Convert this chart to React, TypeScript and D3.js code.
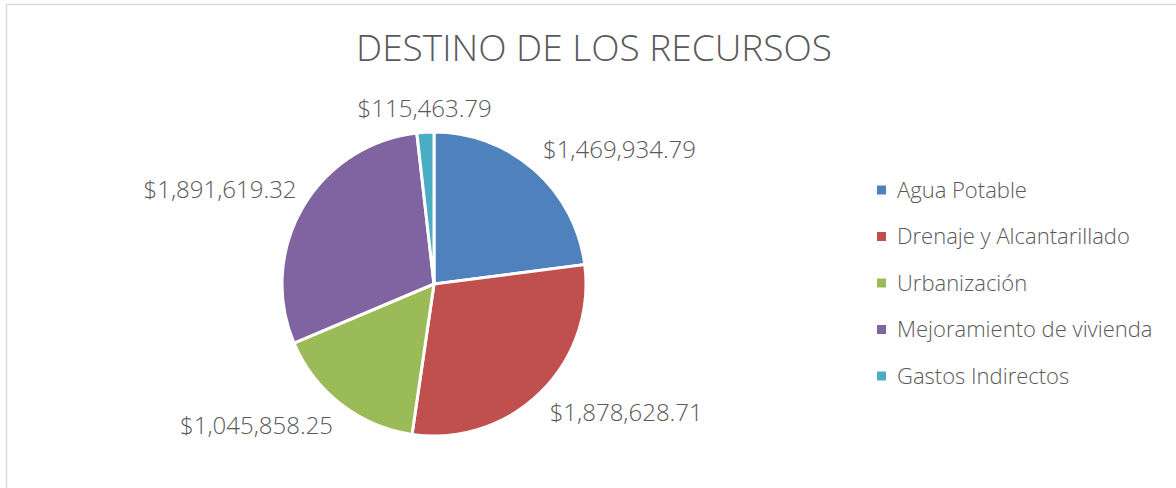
import React from "react";
import * as d3 from "d3";

const categories = [
  "Agua Potable",
  "Drenaje y Alcantarillado",
  "Urbanización",
  "Mejoramiento de vivienda",
  "Gastos Indirectos",
];
const values = [1469934.79, 1878628.71, 1045858.25, 1891619.32, 115463.79];
const colors = ["#4f81bd", "#c0504d", "#9bbb59", "#8064a2", "#4bacc6"];
const title = "DESTINO DE LOS RECURSOS";

const FONT = "'Open Sans', 'DejaVu Sans', sans-serif";
const TEXT = "#595959";

const App = () => {
  const width = 1176,
    height = 488;
  const cx = 434,
    cy = 284,
    radius = 152;

  const pie = d3
    .pie<number>()
    .sort(null)
    .value((d) => d);
  const arcs = pie(values);
  const arc = d3.arc<d3.PieArcDatum<number>>().innerRadius(0).outerRadius(radius);

  const fmt = d3.format("$,.2f");

  const legendY = d3
    .scalePoint<string>()
    .domain(categories)
    .range([190, 376]);

  return (
    <svg
      width={width}
      height={height}
      style={{ position: "absolute", left: 0, top: 0, background: "#fff" }}
    >
      <rect x={6.5} y={4.5} width={1180} height={500} fill="#fff" stroke="#d9d9d9" strokeWidth={1.5} />
      <text
        x={594}
        y={61}
        textAnchor="middle"
        fontFamily={FONT}
        fontWeight={300}
        fontSize={37}
        fill={TEXT}
      >
        {title}
      </text>
      <g transform={`translate(${cx},${cy})`}>
        {arcs.map((d, i) => (
          <path key={i} d={arc(d) || ""} fill={colors[i]} stroke="#fff" strokeWidth={3} />
        ))}
        {arcs.map((d, i) => {
          // label just outside the rim along the slice's mid angle
          const mid = (d.startAngle + d.endAngle) / 2;
          const s = Math.sin(mid),
            c = Math.cos(mid);
          const px = (radius + 13) * s;
          const py = -(radius + 13) * c;
          const anchor = s > 0.3 ? "start" : s < -0.3 ? "end" : "middle";
          const dy = c > 0 ? "-0.1em" : "0.8em";
          return (
            <text
              key={"l" + i}
              x={px + (s < -0.8 ? 5 : 0)}
              y={py}
              dy={dy}
              textAnchor={anchor}
              fontFamily={FONT}
              fontWeight={300}
              fontSize={24}
              fill={TEXT}
            >
              {fmt(values[i])}
            </text>
          );
        })}
      </g>
      <g>
        {categories.map((cat, i) => (
          <g key={cat} transform={`translate(877,${legendY(cat)})`}>
            <rect x={0} y={-4.5} width={9} height={9} fill={colors[i]} />
            <text
              x={20}
              y={0}
              dy="0.35em"
              fontFamily={FONT}
              fontWeight={300}
              fontSize={22}
              fill={TEXT}
            >
              {cat}
            </text>
          </g>
        ))}
      </g>
    </svg>
  );
};

export default App;
